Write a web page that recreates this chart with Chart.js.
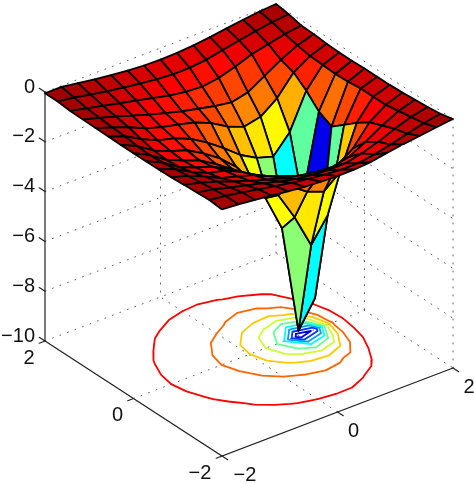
<!DOCTYPE html>
<html>
<head>
<meta charset="utf-8">
<style>
  html, body { margin: 0; padding: 0; background: #fff; }
  #wrap { width: 474px; height: 483px; }
</style>
<script src="https://cdn.jsdelivr.net/npm/chart.js@4/dist/chart.umd.min.js"></script>
</head>
<body>
<div id="wrap"><canvas id="chart" width="474" height="483"></canvas></div>
<script>
// grid of the surface, x = -2..2 and y = -2..2
const xGrid = [-2, -1.714, -1.429, -1.143, -0.857, -0.571, -0.286, 0, 0.286, 0.571, 0.857, 1.143, 1.429, 1.714, 2];
const yGrid = [-2, -1.714, -1.429, -1.143, -0.857, -0.571, -0.286, 0, 0.286, 0.571, 0.857, 1.143, 1.429, 1.714, 2];

// one row per y value
const zRows = [
    [-0.10, -0.15, -0.22, -0.30, -0.38, -0.45, -0.50, -0.53, -0.52, -0.47, -0.35, -0.25, -0.17, -0.08, 0.00],
    [-0.05, -0.14, -0.25, -0.38, -0.50, -0.62, -0.72, -0.80, -0.85, -0.85, -0.75, -0.60, -0.42, -0.25, -0.12],
    [-0.08, -0.20, -0.38, -0.55, -0.72, -0.90, -1.05, -1.15, -1.20, -1.18, -1.03, -0.82, -0.55, -0.33, -0.18],
    [-0.10, -0.26, -0.48, -0.72, -0.95, -1.15, -1.35, -1.50, -1.60, -1.65, -1.50, -1.15, -0.75, -0.42, -0.22],
    [-0.13, -0.32, -0.60, -0.92, -1.10, -1.30, -1.60, -1.85, -2.10, -2.30, -2.20, -1.75, -0.95, -0.50, -0.26],
    [-0.14, -0.38, -0.75, -1.05, -1.20, -1.50, -1.88, -2.35, -2.85, -3.30, -3.56, -3.00, -1.30, -0.50, -0.28],
    [-0.15, -0.45, -0.88, -1.15, -1.37, -1.72, -2.15, -2.75, -3.52, -4.66, -6.03, -5.08, -1.71, -0.50, -0.28],
    [-0.15, -0.48, -0.92, -1.20, -1.45, -1.85, -2.30, -2.95, -3.97, -5.43, -9.80, -8.74, -2.11, -0.56, -0.28],
    [-0.15, -0.45, -0.88, -1.15, -1.37, -1.75, -2.20, -2.80, -3.65, -4.66, -6.00, -5.10, -1.84, -0.58, -0.30],
    [-0.14, -0.38, -0.75, -1.05, -1.22, -1.50, -1.90, -2.37, -2.90, -3.27, -3.47, -2.74, -1.33, -0.55, -0.30],
    [-0.13, -0.35, -0.60, -0.90, -1.10, -1.25, -1.42, -1.70, -2.09, -2.35, -2.20, -1.71, -0.93, -0.52, -0.28],
    [-0.12, -0.30, -0.50, -0.72, -0.93, -1.12, -1.30, -1.45, -1.60, -1.70, -1.55, -1.15, -0.75, -0.42, -0.22],
    [-0.10, -0.25, -0.40, -0.55, -0.70, -0.85, -1.00, -1.10, -1.15, -1.05, -0.85, -0.60, -0.45, -0.30, -0.20],
    [-0.05, -0.15, -0.28, -0.40, -0.50, -0.60, -0.68, -0.73, -0.72, -0.65, -0.52, -0.38, -0.26, -0.15, -0.08],
    [-0.05, -0.05, -0.15, -0.25, -0.33, -0.40, -0.45, -0.47, -0.45, -0.40, -0.32, -0.22, -0.13, -0.05, 0.00]
];

const contourLevels = [-1, -2, -3, -4, -5, -6, -7, -8, -9];
const xTicks = [-2, 0, 2];
const yTicks = [-2, 0, 2];
const zTicks = [0, -2, -4, -6, -8, -10];

const zMin = -9.8;
const zTop = 0;
const colorTop = 0.25;
const zFloor = -10;

// view of the box, worked out from the corners of the floor
function viewX(x, y) {
    return 222 + (x + 2) / 4 * 231 - (y + 2) / 4 * 177;
}

function viewY(x, y, z) {
    return 456 - (x + 2) / 4 * 88 - (y + 2) / 4 * 115 - (z - zFloor) * 24.9;
}

function view(x, y, z) {
    return { x: viewX(x, y), y: viewY(x, y, z) };
}

function jetChannel(t, center) {
    return Math.max(0, Math.min(1, 1.5 - Math.abs(4 * t - center)));
}

function jet(z) {
    let t = Math.max(0, Math.min(1, (z - zMin) / (colorTop - zMin)));
    let r = jetChannel(t, 3);
    let g = jetChannel(t, 2);
    let b = jetChannel(t, 1);
    return `rgb(${Math.round(r * 255)},${Math.round(g * 255)},${Math.round(b * 255)})`;
}

function lineSet(points, color, width, dash) {
    return {
        data: points,
        showLine: true,
        fill: false,
        pointRadius: 0,
        borderColor: color,
        borderWidth: width,
        borderDash: dash || [],
        borderCapStyle: 'round',
        clip: false
    };
}

// first dataset ends on top, so the cell nearest to the viewer goes first
function surfaceSets() {
    let sets = [];
    for (let j = 0; j < yGrid.length - 1; j++) {
        for (let i = 0; i < xGrid.length - 1; i++) {
            sets.push({
                data: [
                    view(xGrid[i], yGrid[j], zRows[j][i]),
                    view(xGrid[i + 1], yGrid[j], zRows[j][i + 1]),
                    view(xGrid[i + 1], yGrid[j + 1], zRows[j + 1][i + 1]),
                    view(xGrid[i], yGrid[j + 1], zRows[j + 1][i]),
                    view(xGrid[i], yGrid[j], zRows[j][i])
                ],
                showLine: true,
                fill: 'shape',
                backgroundColor: jet(zRows[j][i]),
                borderColor: '#000',
                borderWidth: 1.8,
                borderJoinStyle: 'round',
                pointRadius: 0,
                clip: false
            });
        }
    }
    return sets;
}

function crossing(level, x0, y0, z0, x1, y1, z1) {
    let f = (level - z0) / (z1 - z0);
    return view(x0 + (x1 - x0) * f, y0 + (y1 - y0) * f, zFloor);
}

// contour lines on the floor, one dataset for each level
function contourSets() {
    let sets = [];
    for (let level of contourLevels) {
        let points = [];
        for (let j = 0; j < yGrid.length - 1; j++) {
            for (let i = 0; i < xGrid.length - 1; i++) {
                let x0 = xGrid[i], x1 = xGrid[i + 1], y0 = yGrid[j], y1 = yGrid[j + 1];
                let a = zRows[j][i], b = zRows[j][i + 1], c = zRows[j + 1][i + 1], d = zRows[j + 1][i];
                let cuts = [];
                if ((a < level) !== (b < level)) cuts.push(crossing(level, x0, y0, a, x1, y0, b));
                if ((b < level) !== (c < level)) cuts.push(crossing(level, x1, y0, b, x1, y1, c));
                if ((c < level) !== (d < level)) cuts.push(crossing(level, x1, y1, c, x0, y1, d));
                if ((d < level) !== (a < level)) cuts.push(crossing(level, x0, y1, d, x0, y0, a));
                for (let k = 0; k + 1 < cuts.length; k += 2) {
                    points.push(cuts[k], cuts[k + 1], { x: NaN, y: NaN });
                }
            }
        }
        sets.push(lineSet(points, jet(level), 1.8));
    }
    return sets;
}

function axisSets() {
    let sets = [];
    let ink = '#222';
    sets.push(lineSet([view(-2, 2, zFloor), view(-2, -2, zFloor), view(2, -2, zFloor)], ink, 1.2));
    sets.push(lineSet([view(-2, 2, zFloor), view(-2, 2, zTop)], ink, 1.2));
    for (let x of xTicks) {
        sets.push(lineSet([view(x, -2, zFloor), view(x, -2.13, zFloor)], ink, 1.2));
    }
    for (let y of yTicks) {
        sets.push(lineSet([view(-2, y, zFloor), view(-2.1, y, zFloor)], ink, 1.2));
    }
    for (let z of zTicks) {
        sets.push(lineSet([view(-2, 2, z), view(-2, 2.13, z)], ink, 1.2));
    }
    return sets;
}

function gridSets() {
    let sets = [];
    let ink = '#666';
    let dots = [1, 7];
    sets.push(lineSet([view(0, -2, zFloor), view(0, 2, zFloor), view(0, 2, zTop)], ink, 1, dots));
    sets.push(lineSet([view(-2, 0, zFloor), view(2, 0, zFloor), view(2, 0, zTop)], ink, 1, dots));
    sets.push(lineSet([view(2, 2, zFloor), view(2, 2, zTop)], ink, 1, dots));
    sets.push(lineSet([view(2, -2, zFloor), view(2, -2, zTop)], ink, 1, dots));
    for (let z of zTicks) {
        sets.push(lineSet([view(-2, 2, z), view(2, 2, z), view(2, -2, z)], ink, 1, dots));
    }
    return sets;
}

function minusSign(value) {
    return String(value).replace('-', '\u2212');
}

// tick labels of the box, placed through the chart scales
const boxLabels = {
    id: 'boxLabels',
    afterDraw(chart) {
        let ctx = chart.ctx;
        let sx = chart.scales.x;
        let sy = chart.scales.y;
        ctx.save();
        ctx.fillStyle = '#111';
        ctx.font = '20px "Liberation Sans", Arial, sans-serif';
        ctx.textBaseline = 'middle';
        ctx.textAlign = 'right';
        for (let z of zTicks) {
            let p = view(-2, 2, z);
            ctx.fillText(minusSign(z), sx.getPixelForValue(p.x - 10), sy.getPixelForValue(p.y - 5));
        }
        ctx.textAlign = 'center';
        for (let y of yTicks) {
            let p = view(-2, y, zFloor);
            let shift = y < 0 ? 22 : 16;
            ctx.fillText(minusSign(y), sx.getPixelForValue(p.x - shift), sy.getPixelForValue(p.y + 17));
        }
        for (let x of xTicks) {
            let p = view(x, -2, zFloor);
            let shift = x < 0 ? 23 : 16;
            ctx.fillText(minusSign(x), sx.getPixelForValue(p.x + shift), sy.getPixelForValue(p.y + 19));
        }
        ctx.restore();
    }
};

new Chart(document.getElementById('chart'), {
    type: 'scatter',
    data: {
        datasets: [...surfaceSets(), ...contourSets(), ...axisSets(), ...gridSets()]
    },
    options: {
        responsive: false,
        animation: false,
        layout: { padding: 0 },
        scales: {
            x: { type: 'linear', min: 0, max: 474, display: false },
            y: { type: 'linear', min: 0, max: 483, reverse: true, display: false }
        },
        plugins: {
            legend: { display: false },
            tooltip: { enabled: false },
            title: { display: false }
        }
    },
    plugins: [boxLabels]
});
</script>
</body>
</html>
